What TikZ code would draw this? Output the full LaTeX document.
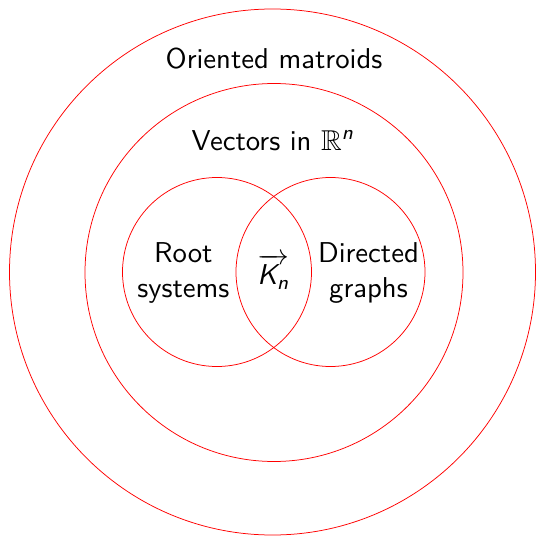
\documentclass[tikz,border=0pt]{standalone}
\usepackage{amsmath,amssymb}
\newcommand{\sfit}[1]{\text{\sffamily\itshape #1}}
\tikzset{
  ring/.style={circle, draw=red, line width=0.75pt, inner sep=0pt},
  lbl/.style={scale=2.87, font=\sffamily\fontsize{10}{12.2}\selectfont, align=center, inner sep=0pt}
}
\begin{document}
\begin{tikzpicture}[x=1pt, y=-1pt]
  \useasboundingbox (0,0) rectangle (536,538);
  % nested regions
  \node[ring, minimum size=526pt] (outer) at (272.5,272) {};
  \node[ring, minimum size=378pt] (middle) at (274,272.5) {};
  \node[ring, minimum size=189pt] (left) at (217,272) {};
  \node[ring, minimum size=189pt] (right) at (330.5,272) {};
  % labels (multi-line nodes are placed by the baseline of their last line)
  \node[lbl, anchor=base] (om) at (274,68) {Oriented matroids};
  \node[lbl, anchor=base] (vec) at (273,150.4) {Vectors in $\mathbb{R}^{\sfit{n}}$};
  \node[lbl, anchor=base] (root) at (183.4,297.5) {Root\\systems};
  \node[lbl, anchor=base] (dir) at (368.5,297.5) {Directed\\graphs};
  \node[lbl, anchor=base] (kn) at (273.5,284.8) {$\overrightarrow{\sfit{K}_{\sfit{n}}}$};
\end{tikzpicture}
\end{document}
